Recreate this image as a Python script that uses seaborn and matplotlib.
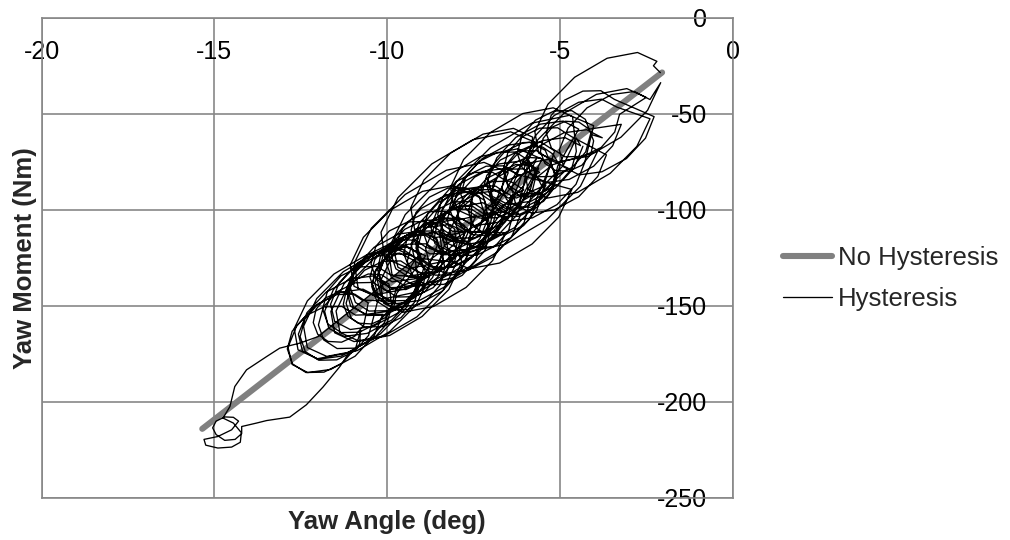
import matplotlib
matplotlib.use("Agg")
import matplotlib.pyplot as plt
import seaborn as sns

sns.set_theme(style="white")
plt.rcParams["font.family"] = ["Liberation Sans", "DejaVu Sans"]

# Axis ticks
angle_ticks = [-20, -15, -10, -5, 0]
moment_ticks = [0, -50, -100, -150, -200, -250]

# Linear (no hysteresis) yaw moment response
no_hyst_angle = [-15.35, -2.05]
no_hyst_moment = [-214.0, -28.5]

# Hysteresis trace, small yaw angles
hyst_upper_angle = [
    -2.10, -2.30,
    -2.20, -2.76, -3.64, -4.58, -5.35, -5.73, -5.62, -5.06, -4.18, -3.24, -2.47, -2.09,
    -2.40, -2.85, -3.51, -4.22, -4.77, -5.02, -4.90, -4.45, -3.79, -3.08, -2.53, -2.28,
    -3.43, -3.82, -4.34, -4.87, -5.26, -5.40, -5.25, -4.86, -4.34, -3.81, -3.42, -3.28,
    -2.51, -3.07, -3.95, -4.89, -5.66, -6.04, -5.93, -5.37, -4.49, -3.55, -2.78, -2.40,
    -3.35, -3.80, -4.46, -5.17, -5.72, -5.97, -5.85, -5.40, -4.74, -4.03, -3.48, -3.23,
    -4.16, -4.46, -4.85, -5.23, -5.49, -5.57, -5.44, -5.14, -4.75, -4.37, -4.11, -4.03,
    -4.27, -4.66, -5.18, -5.71, -6.10, -6.24, -6.09, -5.70, -5.18, -4.65, -4.26, -4.12,
    -3.78, -4.23, -4.89, -5.60, -6.15, -6.40, -6.28, -5.83, -5.17, -4.46, -3.91, -3.66,
]
hyst_upper_moment = [
    -28.6, -25.0,
    -22.7, -18.1, -21.1, -31.0, -45.0, -59.4, -70.5, -75.1, -72.1, -62.2, -48.2, -33.8,
    -42.6, -38.4, -40.0, -46.9, -57.5, -68.7, -77.6, -81.8, -80.2, -73.3, -62.7, -51.5,
    -42.5, -38.0, -38.2, -42.9, -50.9, -60.1, -67.9, -72.4, -72.2, -67.5, -59.5, -50.3,
    -41.5, -36.9, -39.9, -49.8, -63.8, -78.2, -89.3, -93.9, -90.9, -81.0, -67.0, -52.6,
    -46.6, -42.4, -44.0, -50.9, -61.5, -72.7, -81.6, -85.8, -84.2, -77.3, -66.7, -55.5,
    -58.0, -54.3, -53.9, -57.0, -62.8, -69.7, -75.8, -79.5, -79.9, -76.8, -71.0, -64.1,
    -52.9, -48.4, -48.6, -53.3, -61.3, -70.5, -78.3, -82.8, -82.6, -77.9, -69.9, -60.7,
    -62.5, -58.3, -59.9, -66.8, -77.4, -88.6, -97.5, -101.7, -100.1, -93.2, -82.6, -71.4,
]

# Hysteresis trace, central cluster, first pass (part 1)
hyst_core_a_angle = [
    -4.68, -5.07, -5.59, -6.12, -6.51, -6.65, -6.50, -6.11, -5.59, -5.06, -4.67, -4.53,
    -4.64, -5.20, -6.08, -7.02, -7.79, -8.17, -8.06, -7.50, -6.62, -5.68, -4.91, -4.53,
    -4.41, -4.86, -5.52, -6.23, -6.78, -7.03, -6.91, -6.46, -5.80, -5.09, -4.54, -4.29,
    -4.03, -4.73, -5.82, -7.01, -7.99, -8.48, -8.37, -7.67, -6.58, -5.39, -4.41, -3.92,
    -5.27, -5.57, -5.96, -6.34, -6.60, -6.68, -6.55, -6.25, -5.86, -5.48, -5.22, -5.14,
    -5.29, -5.68, -6.20, -6.73, -7.12, -7.26, -7.11, -6.72, -6.20, -5.67, -5.28, -5.14,
    -5.43, -5.88, -6.54, -7.25, -7.80, -8.05, -7.93, -7.48, -6.82, -6.11, -5.56, -5.31,
    -5.68, -6.07, -6.59, -7.12, -7.51, -7.65, -7.50, -7.11, -6.59, -6.06, -5.67, -5.53,
    -4.77, -5.33, -6.21, -7.15, -7.92, -8.30, -8.19, -7.63, -6.75, -5.81, -5.04, -4.66,
    -6.23, -6.62, -7.14, -7.67, -8.06, -8.20, -8.05, -7.66, -7.14, -6.61, -6.22, -6.08,
    -5.79, -6.35, -7.23, -8.17, -8.94, -9.32, -9.21, -8.65, -7.77, -6.83, -6.06, -5.68,
    -6.56, -6.86, -7.25, -7.63, -7.89, -7.97, -7.84, -7.54, -7.15, -6.77, -6.51, -6.43,
    -6.12, -6.57, -7.23, -7.94, -8.49, -8.74, -8.62, -8.17, -7.51, -6.80, -6.25, -6.00,
    -6.50, -6.89, -7.41, -7.94, -8.33, -8.47, -8.32, -7.93, -7.41, -6.88, -6.49, -6.35,
    -5.52, -6.22, -7.31, -8.50, -9.48, -9.97, -9.86, -9.16, -8.07, -6.88, -5.90, -5.41,
    -6.27, -6.72, -7.38, -8.09, -8.64, -8.89, -8.77, -8.32, -7.66, -6.95, -6.40, -6.15,
    -7.00, -7.39, -7.91, -8.44, -8.83, -8.97, -8.82, -8.43, -7.91, -7.38, -6.99, -6.85,
    -7.22, -7.52, -7.91, -8.29, -8.55, -8.63, -8.50, -8.20, -7.81, -7.43, -7.17, -7.09,
]
hyst_core_a_moment = [
    -61.8, -57.3, -57.5, -62.2, -70.2, -79.4, -87.2, -91.7, -91.5, -86.8, -78.8, -69.6,
    -51.5, -46.9, -49.9, -59.8, -73.8, -88.2, -99.3, -103.9, -100.9, -91.0, -77.0, -62.6,
    -66.6, -62.4, -64.0, -70.9, -81.5, -92.7, -101.6, -105.8, -104.2, -97.3, -86.7, -75.5,
    -56.2, -50.8, -54.9, -67.5, -85.1, -103.1, -116.6, -122.0, -117.9, -105.3, -87.7, -69.7,
    -76.8, -73.1, -72.7, -75.8, -81.6, -88.5, -94.6, -98.3, -98.7, -95.6, -89.8, -82.9,
    -73.7, -69.2, -69.4, -74.1, -82.1, -91.3, -99.1, -103.6, -103.4, -98.7, -90.7, -81.5,
    -69.0, -64.8, -66.4, -73.3, -83.9, -95.1, -104.0, -108.2, -106.6, -99.7, -89.1, -77.9,
    -83.2, -78.7, -78.9, -83.6, -91.6, -100.8, -108.6, -113.1, -112.9, -108.2, -100.2, -91.0,
    -78.3, -73.7, -76.7, -86.6, -100.6, -115.0, -126.1, -130.7, -127.7, -117.8, -103.8, -89.4,
    -81.6, -77.1, -77.3, -82.0, -90.0, -99.2, -107.0, -111.5, -111.3, -106.6, -98.6, -89.4,
    -62.2, -57.6, -60.6, -70.5, -84.5, -98.9, -110.0, -114.6, -111.6, -101.7, -87.7, -73.3,
    -91.4, -87.7, -87.3, -90.4, -96.2, -103.1, -109.2, -112.9, -113.3, -110.2, -104.4, -97.5,
    -82.6, -78.4, -80.0, -86.9, -97.5, -108.7, -117.6, -121.8, -120.2, -113.3, -102.7, -91.5,
    -93.9, -89.4, -89.6, -94.3, -102.3, -111.5, -119.3, -123.8, -123.6, -118.9, -110.9, -101.7,
    -73.6, -68.2, -72.3, -84.9, -102.5, -120.5, -134.0, -139.4, -135.3, -122.7, -105.1, -87.1,
    -93.9, -89.7, -91.3, -98.2, -108.8, -120.0, -128.9, -133.1, -131.5, -124.6, -114.0, -102.8,
    -93.5, -89.0, -89.2, -93.9, -101.9, -111.1, -118.9, -123.4, -123.2, -118.5, -110.5, -101.3,
    -102.0, -98.3, -97.9, -101.0, -106.8, -113.7, -119.8, -123.5, -123.9, -120.8, -115.0, -108.1,
]

# Hysteresis trace, central cluster, first pass (part 2)
hyst_core_b_angle = [
    -7.19, -7.58, -8.10, -8.63, -9.02, -9.16, -9.01, -8.62, -8.10, -7.57, -7.18, -7.04,
    -7.19, -7.64, -8.30, -9.01, -9.56, -9.81, -9.69, -9.24, -8.58, -7.87, -7.32, -7.07,
    -6.50, -7.20, -8.29, -9.48, -10.46, -10.95, -10.84, -10.14, -9.05, -7.86, -6.88, -6.39,
    -7.45, -7.84, -8.36, -8.89, -9.28, -9.42, -9.27, -8.88, -8.36, -7.83, -7.44, -7.30,
    -6.68, -7.24, -8.12, -9.06, -9.83, -10.21, -10.10, -9.54, -8.66, -7.72, -6.95, -6.57,
    -8.11, -8.41, -8.80, -9.18, -9.44, -9.52, -9.39, -9.09, -8.70, -8.32, -8.06, -7.98,
    -8.06, -8.45, -8.97, -9.50, -9.89, -10.03, -9.88, -9.49, -8.97, -8.44, -8.05, -7.91,
    -7.68, -8.13, -8.79, -9.50, -10.05, -10.30, -10.18, -9.73, -9.07, -8.36, -7.81, -7.56,
    -8.29, -8.68, -9.20, -9.73, -10.12, -10.26, -10.11, -9.72, -9.20, -8.67, -8.28, -8.14,
    -8.87, -9.17, -9.56, -9.94, -10.20, -10.28, -10.15, -9.85, -9.46, -9.08, -8.82, -8.74,
    -8.48, -8.87, -9.39, -9.92, -10.31, -10.45, -10.30, -9.91, -9.39, -8.86, -8.47, -8.33,
    -8.56, -9.01, -9.67, -10.38, -10.93, -11.18, -11.06, -10.61, -9.95, -9.24, -8.69, -8.44,
    -7.95, -8.51, -9.39, -10.33, -11.10, -11.48, -11.37, -10.81, -9.93, -8.99, -8.22, -7.84,
    -8.10, -8.66, -9.54, -10.48, -11.25, -11.63, -11.52, -10.96, -10.08, -9.14, -8.37, -7.99,
    -9.16, -9.55, -10.07, -10.60, -10.99, -11.13, -10.98, -10.59, -10.07, -9.54, -9.15, -9.01,
    -9.22, -9.61, -10.13, -10.66, -11.05, -11.19, -11.04, -10.65, -10.13, -9.60, -9.21, -9.07,
    -9.19, -9.64, -10.30, -11.01, -11.56, -11.81, -11.69, -11.24, -10.58, -9.87, -9.32, -9.07,
    -9.86, -10.16, -10.55, -10.93, -11.19, -11.27, -11.14, -10.84, -10.45, -10.07, -9.81, -9.73,
]
hyst_core_b_moment = [
    -100.2, -95.7, -95.9, -100.6, -108.6, -117.8, -125.6, -130.1, -129.9, -125.2, -117.2, -108.0,
    -94.9, -90.7, -92.3, -99.2, -109.8, -121.0, -129.9, -134.1, -132.5, -125.6, -115.0, -103.8,
    -80.7, -75.3, -79.4, -92.0, -109.6, -127.6, -141.1, -146.5, -142.4, -129.8, -112.2, -94.2,
    -109.1, -104.6, -104.8, -109.5, -117.5, -126.7, -134.5, -139.0, -138.8, -134.1, -126.1, -116.9,
    -100.9, -96.3, -99.3, -109.2, -123.2, -137.6, -148.7, -153.3, -150.3, -140.4, -126.4, -112.0,
    -111.2, -107.5, -107.1, -110.2, -116.0, -122.9, -129.0, -132.7, -133.1, -130.0, -124.2, -117.3,
    -109.8, -105.3, -105.5, -110.2, -118.2, -127.4, -135.2, -139.7, -139.5, -134.8, -126.8, -117.6,
    -109.6, -105.4, -107.0, -113.9, -124.5, -135.7, -144.6, -148.8, -147.2, -140.3, -129.7, -118.5,
    -115.5, -111.0, -111.2, -115.9, -123.9, -133.1, -140.9, -145.4, -145.2, -140.5, -132.5, -123.3,
    -119.6, -115.9, -115.5, -118.6, -124.4, -131.3, -137.4, -141.1, -141.5, -138.4, -132.6, -125.7,
    -122.2, -117.7, -117.9, -122.6, -130.6, -139.8, -147.6, -152.1, -151.9, -147.2, -139.2, -130.0,
    -115.2, -111.0, -112.6, -119.5, -130.1, -141.3, -150.2, -154.4, -152.8, -145.9, -135.3, -124.1,
    -116.0, -111.4, -114.4, -124.3, -138.3, -152.7, -163.8, -168.4, -165.4, -155.5, -141.5, -127.1,
    -116.2, -111.6, -114.6, -124.5, -138.5, -152.9, -164.0, -168.6, -165.6, -155.7, -141.7, -127.3,
    -125.1, -120.6, -120.8, -125.5, -133.5, -142.7, -150.5, -155.0, -154.8, -150.1, -142.1, -132.9,
    -131.1, -126.6, -126.8, -131.5, -139.5, -148.7, -156.5, -161.0, -160.8, -156.1, -148.1, -138.9,
    -126.7, -122.5, -124.1, -131.0, -141.6, -152.8, -161.7, -165.9, -164.3, -157.4, -146.8, -135.6,
    -137.5, -133.8, -133.4, -136.5, -142.3, -149.2, -155.3, -159.0, -159.4, -156.3, -150.5, -143.6,
]

# Hysteresis trace, large yaw angles
hyst_lower_angle = [
    -8.89, -9.45, -10.33, -11.27, -12.04, -12.42, -12.31, -11.75, -10.87, -9.93, -9.16, -8.78,
    -9.90, -10.29, -10.81, -11.34, -11.73, -11.87, -11.72, -11.33, -10.81, -10.28, -9.89, -9.75,
    -9.16, -9.72, -10.60, -11.54, -12.31, -12.69, -12.58, -12.02, -11.14, -10.20, -9.43, -9.05,
    -10.02, -10.41, -10.93, -11.46, -11.85, -11.99, -11.84, -11.45, -10.93, -10.40, -10.01, -9.87,
    -9.95, -10.40, -11.06, -11.77, -12.32, -12.57, -12.45, -12.00, -11.34, -10.63, -10.08, -9.83,
    -10.73, -11.03, -11.42, -11.80, -12.06, -12.14, -12.01, -11.71, -11.32, -10.94, -10.68, -10.60,
    -10.55, -10.94, -11.46, -11.99, -12.38, -12.52, -12.37, -11.98, -11.46, -10.93, -10.54, -10.40,
    -10.25, -10.70, -11.36, -12.07, -12.62, -12.87, -12.75, -12.30, -11.64, -10.93, -10.38, -10.13,
    -10.92, -11.31, -11.83, -12.36, -12.75, -12.89, -12.74, -12.35, -11.83, -11.30, -10.91, -10.77,
]
hyst_lower_moment = [
    -123.9, -119.3, -122.3, -132.2, -146.2, -160.6, -171.7, -176.3, -173.3, -163.4, -149.4, -135.0,
    -134.0, -129.5, -129.7, -134.4, -142.4, -151.6, -159.4, -163.9, -163.7, -159.0, -151.0, -141.8,
    -125.1, -120.5, -123.5, -133.4, -147.4, -161.8, -172.9, -177.5, -174.5, -164.6, -150.6, -136.2,
    -142.3, -137.8, -138.0, -142.7, -150.7, -159.9, -167.7, -172.2, -172.0, -167.3, -159.3, -150.1,
    -138.6, -134.4, -136.0, -142.9, -153.5, -164.7, -173.6, -177.8, -176.2, -169.3, -158.7, -147.5,
    -147.0, -143.3, -142.9, -146.0, -151.8, -158.7, -164.8, -168.5, -168.9, -165.8, -160.0, -153.1,
    -148.4, -143.9, -144.1, -148.8, -156.8, -166.0, -173.8, -178.3, -178.1, -173.4, -165.4, -156.2,
    -145.5, -141.3, -142.9, -149.8, -160.4, -171.6, -180.5, -184.7, -183.1, -176.2, -165.6, -154.4,
    -154.8, -150.3, -150.5, -155.2, -163.2, -172.4, -180.2, -184.7, -184.5, -179.8, -171.8, -162.6,
]

# Hysteresis trace, excursion to the largest yaw angle
hyst_tail_angle = [
    -10.80, -11.18, -11.37, -11.86, -12.34, -12.82, -13.49, -13.78, -14.21,
    -14.21, -14.40, -14.70, -14.95, -15.05, -14.95, -14.70, -14.45, -14.30,
    -14.50, -14.90, -15.30, -15.25, -14.90, -14.50, -14.25, -14.22, -14.45,
    -14.75, -14.55, -14.41, -14.07, -13.49, -13.11, -12.53, -12.00,
]
hyst_tail_moment = [
    -170.0, -176.4, -181.6, -192.3, -201.5, -207.9, -209.7, -211.0, -212.8,
    -216.5, -219.5, -220.0, -217.0, -213.5, -210.0, -207.8, -208.0, -210.0,
    -214.5, -218.0, -219.5, -222.5, -224.0, -223.5, -221.0, -216.0, -211.0,
    -208.4, -202.4, -192.0, -183.3, -176.4, -172.0, -169.4, -166.0,
]

# Hysteresis trace, return pass through the central cluster
hyst_core_c_angle = [
    -9.02, -9.47, -10.13, -10.84, -11.39, -11.64, -11.52, -11.07, -10.41, -9.70, -9.15, -8.90,
    -9.10, -9.49, -10.01, -10.54, -10.93, -11.07, -10.92, -10.53, -10.01, -9.48, -9.09, -8.95,
    -9.02, -9.32, -9.71, -10.09, -10.35, -10.43, -10.30, -10.00, -9.61, -9.23, -8.97, -8.89,
    -8.53, -8.92, -9.44, -9.97, -10.36, -10.50, -10.35, -9.96, -9.44, -8.91, -8.52, -8.38,
    -8.50, -8.89, -9.41, -9.94, -10.33, -10.47, -10.32, -9.93, -9.41, -8.88, -8.49, -8.35,
    -7.74, -8.19, -8.85, -9.56, -10.11, -10.36, -10.24, -9.79, -9.13, -8.42, -7.87, -7.62,
    -7.54, -8.10, -8.98, -9.92, -10.69, -11.07, -10.96, -10.40, -9.52, -8.58, -7.81, -7.43,
    -7.93, -8.32, -8.84, -9.37, -9.76, -9.90, -9.75, -9.36, -8.84, -8.31, -7.92, -7.78,
    -7.76, -8.06, -8.45, -8.83, -9.09, -9.17, -9.04, -8.74, -8.35, -7.97, -7.71, -7.63,
    -7.18, -7.57, -8.09, -8.62, -9.01, -9.15, -9.00, -8.61, -8.09, -7.56, -7.17, -7.03,
    -7.34, -7.73, -8.25, -8.78, -9.17, -9.31, -9.16, -8.77, -8.25, -7.72, -7.33, -7.19,
    -6.69, -7.14, -7.80, -8.51, -9.06, -9.31, -9.19, -8.74, -8.08, -7.37, -6.82, -6.57,
    -7.07, -7.37, -7.76, -8.14, -8.40, -8.48, -8.35, -8.05, -7.66, -7.28, -7.02, -6.94,
    -5.73, -6.43, -7.52, -8.71, -9.69, -10.18, -10.07, -9.37, -8.28, -7.09, -6.11, -5.62,
    -6.57, -6.96, -7.48, -8.01, -8.40, -8.54, -8.39, -8.00, -7.48, -6.95, -6.56, -6.42,
    -6.05, -6.44, -6.96, -7.49, -7.88, -8.02, -7.87, -7.48, -6.96, -6.43, -6.04, -5.90,
    -5.65, -6.10, -6.76, -7.47, -8.02, -8.27, -8.15, -7.70, -7.04, -6.33, -5.78, -5.53,
    -5.90, -6.29, -6.81, -7.34, -7.73, -7.87, -7.72, -7.33, -6.81, -6.28, -5.89, -5.75,
    -5.59, -5.89, -6.28, -6.66, -6.92, -7.00, -6.87, -6.57, -6.18, -5.80, -5.54, -5.46,
    -5.16, -5.55, -6.07, -6.60, -6.99, -7.13, -6.98, -6.59, -6.07, -5.54, -5.15, -5.01,
    -5.20, -5.50, -5.89, -6.27, -6.53, -6.61, -6.48, -6.18, -5.79, -5.41, -5.15, -5.07,
    -4.46, -4.91, -5.57, -6.28, -6.83, -7.08, -6.96, -6.51, -5.85, -5.14, -4.59, -4.34,
]
hyst_core_c_moment = [
    -123.1, -118.9, -120.5, -127.4, -138.0, -149.2, -158.1, -162.3, -160.7, -153.8, -143.2, -132.0,
    -122.8, -118.3, -118.5, -123.2, -131.2, -140.4, -148.2, -152.7, -152.5, -147.8, -139.8, -130.6,
    -127.1, -123.4, -123.0, -126.1, -131.9, -138.8, -144.9, -148.6, -149.0, -145.9, -140.1, -133.2,
    -117.5, -113.0, -113.2, -117.9, -125.9, -135.1, -142.9, -147.4, -147.2, -142.5, -134.5, -125.3,
    -110.6, -106.1, -106.3, -111.0, -119.0, -128.2, -136.0, -140.5, -140.3, -135.6, -127.6, -118.4,
    -111.8, -107.6, -109.2, -116.1, -126.7, -137.9, -146.8, -151.0, -149.4, -142.5, -131.9, -120.7,
    -92.0, -87.4, -90.4, -100.3, -114.3, -128.7, -139.8, -144.4, -141.4, -131.5, -117.5, -103.1,
    -105.3, -100.8, -101.0, -105.7, -113.7, -122.9, -130.7, -135.2, -135.0, -130.3, -122.3, -113.1,
    -108.2, -104.5, -104.1, -107.2, -113.0, -119.9, -126.0, -129.7, -130.1, -127.0, -121.2, -114.3,
    -104.1, -99.6, -99.8, -104.5, -112.5, -121.7, -129.5, -134.0, -133.8, -129.1, -121.1, -111.9,
    -93.0, -88.5, -88.7, -93.4, -101.4, -110.6, -118.4, -122.9, -122.7, -118.0, -110.0, -100.8,
    -91.8, -87.6, -89.2, -96.1, -106.7, -117.9, -126.8, -131.0, -129.4, -122.5, -111.9, -100.7,
    -94.5, -90.8, -90.4, -93.5, -99.3, -106.2, -112.3, -116.0, -116.4, -113.3, -107.5, -100.6,
    -64.8, -59.4, -63.5, -76.1, -93.7, -111.7, -125.2, -130.6, -126.5, -113.9, -96.3, -78.3,
    -84.9, -80.4, -80.6, -85.3, -93.3, -102.5, -110.3, -114.8, -114.6, -109.9, -101.9, -92.7,
    -89.6, -85.1, -85.3, -90.0, -98.0, -107.2, -115.0, -119.5, -119.3, -114.6, -106.6, -97.4,
    -78.7, -74.5, -76.1, -83.0, -93.6, -104.8, -113.7, -117.9, -116.3, -109.4, -98.8, -87.6,
    -74.4, -69.9, -70.1, -74.8, -82.8, -92.0, -99.8, -104.3, -104.1, -99.4, -91.4, -82.2,
    -80.5, -76.8, -76.4, -79.5, -85.3, -92.2, -98.3, -102.0, -102.4, -99.3, -93.5, -86.6,
    -69.3, -64.8, -65.0, -69.7, -77.7, -86.9, -94.7, -99.2, -99.0, -94.3, -86.3, -77.1,
    -71.1, -67.4, -67.0, -70.1, -75.9, -82.8, -88.9, -92.6, -93.0, -89.9, -84.1, -77.2,
    -58.0, -53.8, -55.4, -62.3, -72.9, -84.1, -93.0, -97.2, -95.6, -88.7, -78.1, -66.9,
]

hyst_angle = (hyst_upper_angle + hyst_core_a_angle + hyst_core_b_angle
              + hyst_lower_angle + hyst_tail_angle + hyst_core_c_angle)
hyst_moment = (hyst_upper_moment + hyst_core_a_moment + hyst_core_b_moment
               + hyst_lower_moment + hyst_tail_moment + hyst_core_c_moment)

grid_color = "#878787"

fig = plt.figure(figsize=(10.1, 5.4), dpi=100)
ax = fig.add_axes([0.0411, 0.0778, 0.6846, 0.8894])

sns.lineplot(x=no_hyst_angle, y=no_hyst_moment, ax=ax, sort=False, estimator=None,
             color="#808080", linewidth=4.4, solid_capstyle="round",
             label="No Hysteresis")
sns.lineplot(x=hyst_angle, y=hyst_moment, ax=ax, sort=False, estimator=None,
             color="black", linewidth=0.95, solid_joinstyle="round",
             label="Hysteresis")

ax.set_xlim(-20, 0)
ax.set_ylim(-250, 0)
ax.set_xticks(angle_ticks)
ax.set_yticks(moment_ticks)
ax.set_xticklabels([str(v) for v in angle_ticks])
ax.set_yticklabels([str(v) for v in moment_ticks])

ax.grid(True, color=grid_color, linewidth=1.2)
ax.set_axisbelow(True)
for side in ["left", "right", "top", "bottom"]:
    ax.spines[side].set_visible(True)
    ax.spines[side].set_color(grid_color)
    ax.spines[side].set_linewidth(1.2)

ax.xaxis.tick_top()
ax.yaxis.tick_right()
ax.tick_params(axis="x", length=0, pad=-33.5, labelsize=18, colors="black")
ax.tick_params(axis="y", length=0, pad=-18.4, labelsize=18, colors="black")
for lab in ax.get_yticklabels():
    lab.set_horizontalalignment("right")

ax.xaxis.set_label_position("bottom")
ax.yaxis.set_label_position("left")
ax.set_xlabel("Yaw Angle (deg)", fontsize=18.5, fontweight="bold", labelpad=9)
ax.set_ylabel("Yaw Moment (Nm)", fontsize=18.5, fontweight="bold", labelpad=3)

ax.legend(loc="center left", bbox_to_anchor=(0.775, 0.484),
          bbox_transform=fig.transFigure, frameon=False, fontsize=18.5,
          handlelength=1.9, handletextpad=0.25, labelspacing=0.67,
          borderpad=0, borderaxespad=0)

fig.savefig("out.png", dpi=100)
